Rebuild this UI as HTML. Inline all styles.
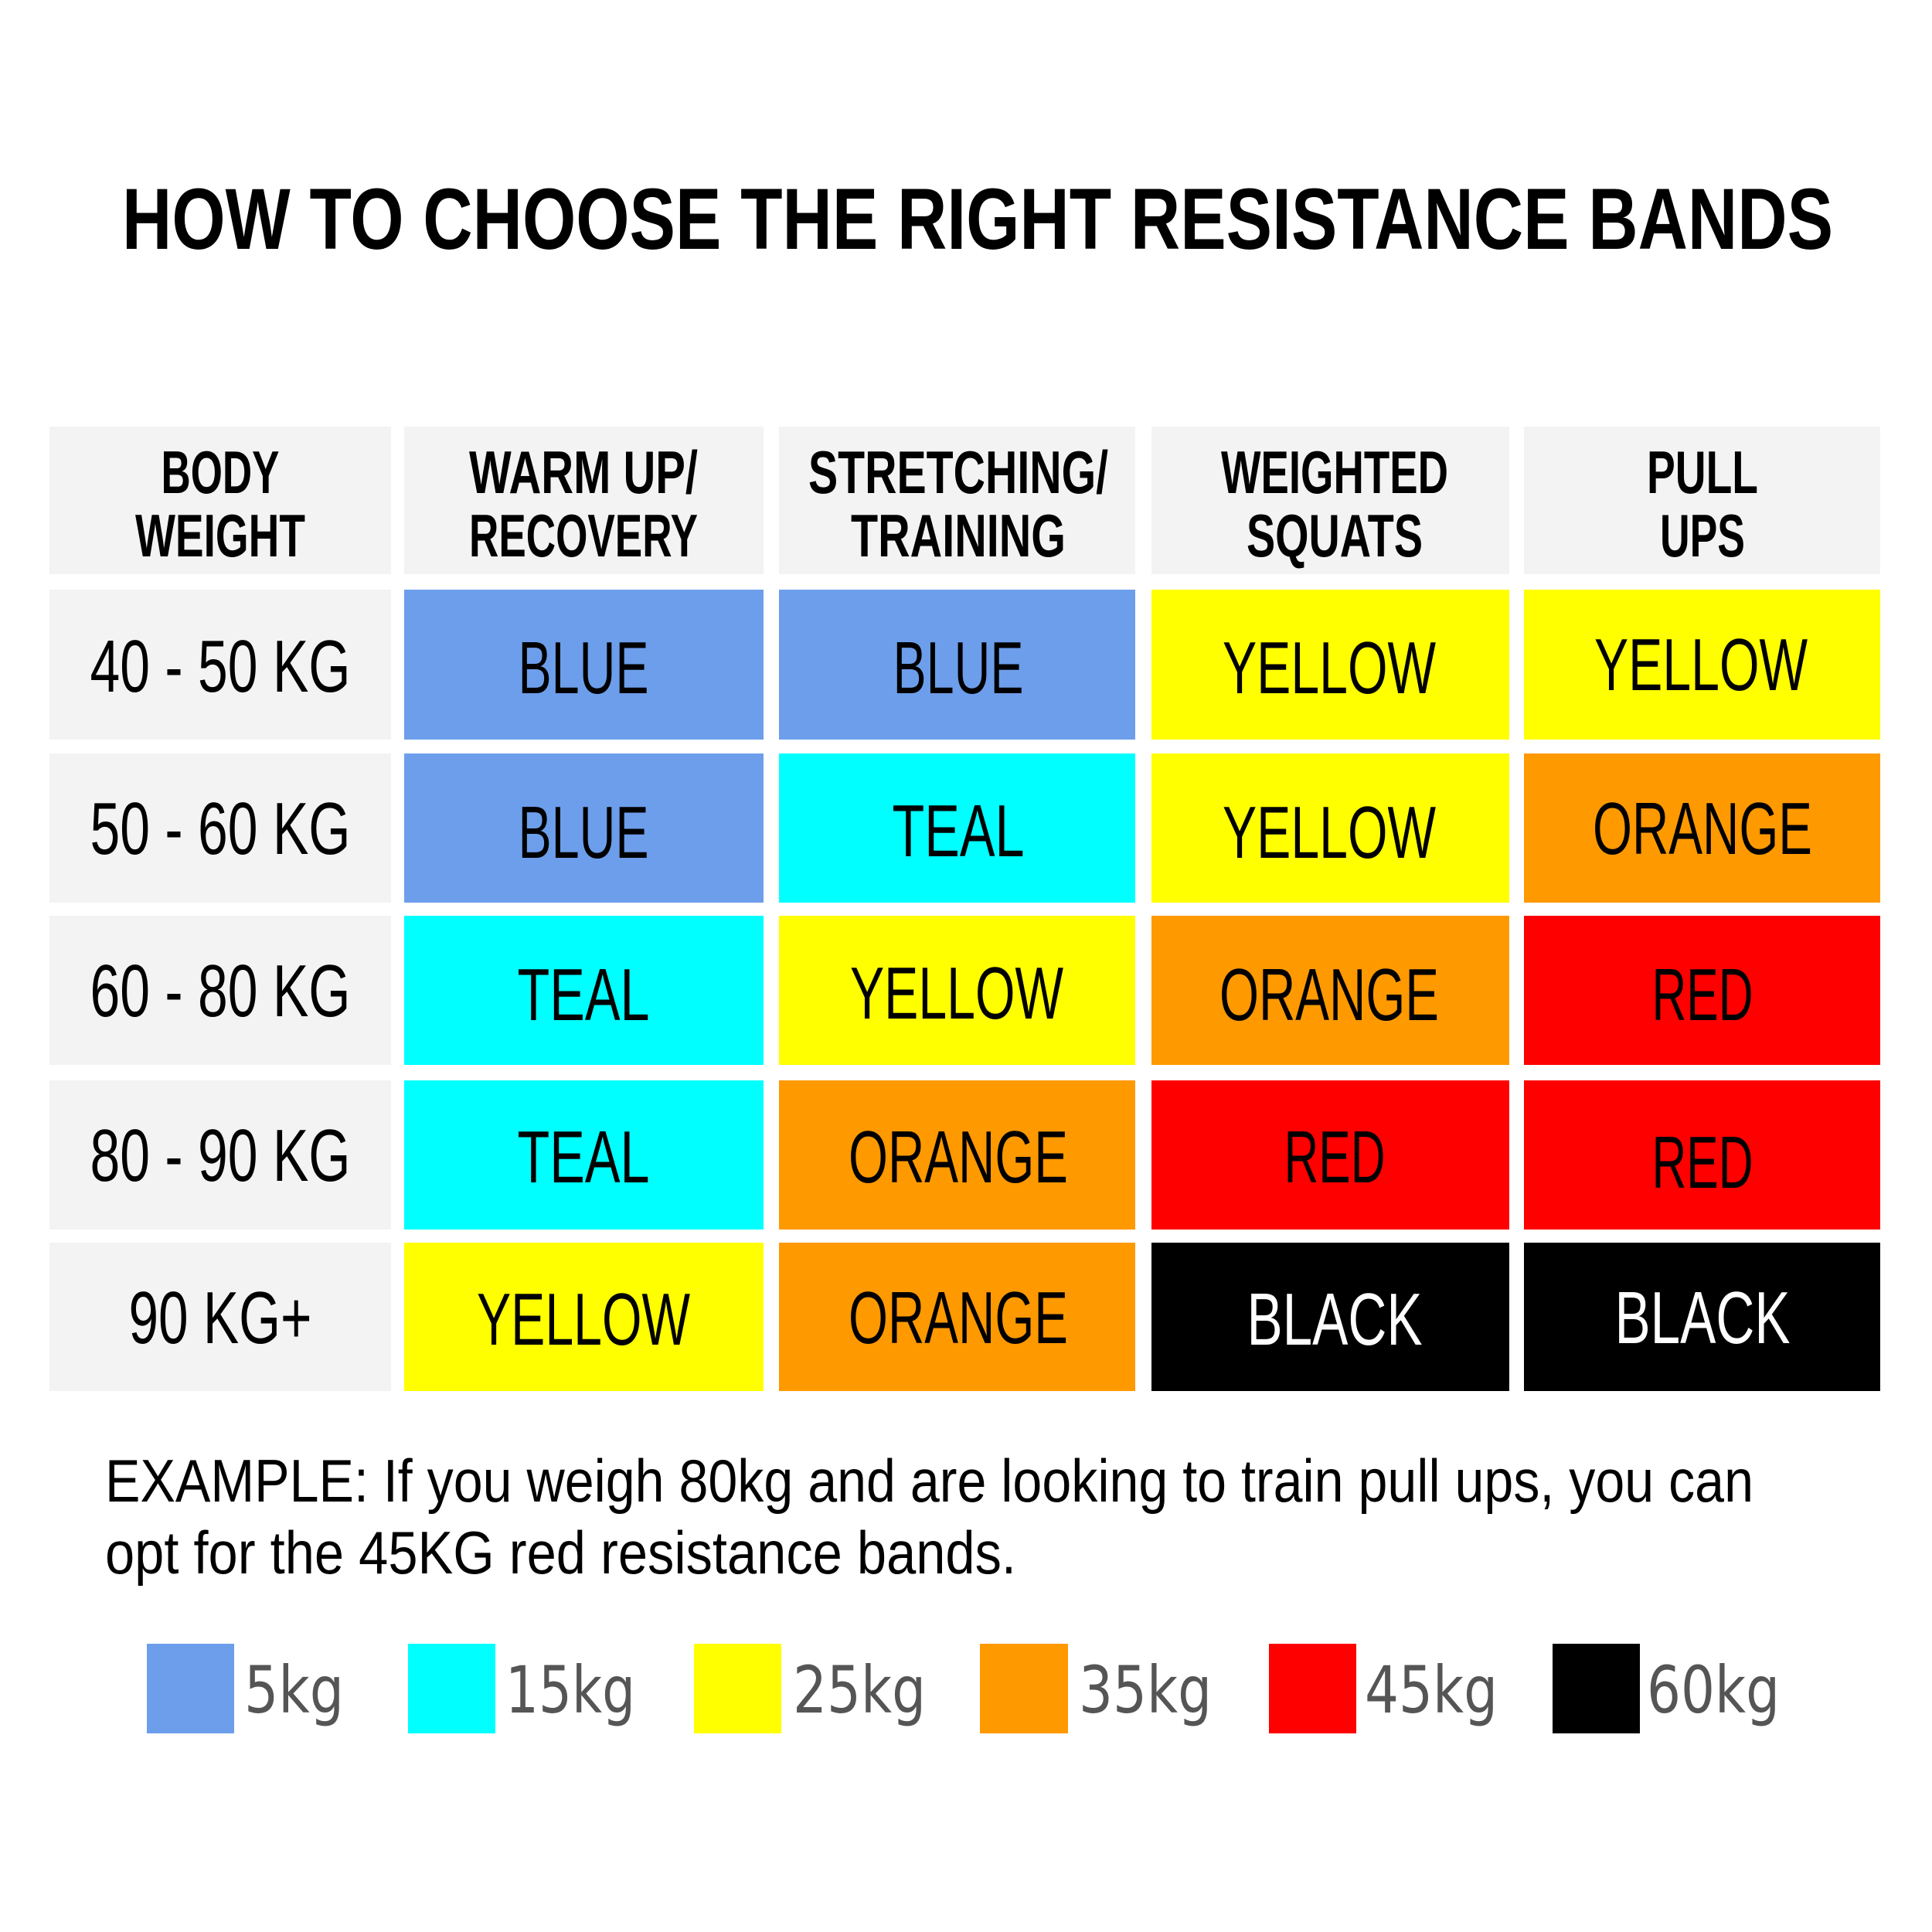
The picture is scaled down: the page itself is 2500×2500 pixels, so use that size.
<!DOCTYPE html>
<html><head><meta charset="utf-8"><style>html,body{margin:0;padding:0;background:#fff}svg{display:block}</style></head>
<body>
<svg width="2500" height="2500" viewBox="0 0 2500 2500" xmlns="http://www.w3.org/2000/svg" font-family="Liberation Sans, sans-serif">
<rect width="2500" height="2500" fill="#fff"/>
<text x="158" y="322" font-size="112" font-weight="bold" textLength="2214" lengthAdjust="spacingAndGlyphs">HOW TO CHOOSE THE RIGHT RESISTANCE BANDS</text>
<g fill="#f3f3f3">
<rect x="64" y="552" width="442" height="191"/>
<rect x="523" y="552" width="465" height="191"/>
<rect x="1008" y="552" width="461" height="191"/>
<rect x="1490" y="552" width="463" height="191"/>
<rect x="1972" y="552" width="461" height="191"/>
<rect x="64" y="763" width="442" height="194"/>
<rect x="64" y="975" width="442" height="193"/>
<rect x="64" y="1185" width="442" height="193"/>
<rect x="64" y="1398" width="442" height="193"/>
<rect x="64" y="1608" width="442" height="192"/>
</g>
<g font-weight="bold" font-size="78" text-anchor="middle">
<text x="285" y="638" textLength="153" lengthAdjust="spacingAndGlyphs">BODY</text>
<text x="285" y="720" textLength="220" lengthAdjust="spacingAndGlyphs">WEIGHT</text>
<text x="755" y="638" textLength="296" lengthAdjust="spacingAndGlyphs">WARM UP/</text>
<text x="755" y="720" textLength="296" lengthAdjust="spacingAndGlyphs">RECOVERY</text>
<text x="1240" y="638" textLength="388" lengthAdjust="spacingAndGlyphs">STRETCHING/</text>
<text x="1240" y="720" textLength="278" lengthAdjust="spacingAndGlyphs">TRAINING</text>
<text x="1727" y="638" textLength="294" lengthAdjust="spacingAndGlyphs">WEIGHTED</text>
<text x="1727" y="720" textLength="228" lengthAdjust="spacingAndGlyphs">SQUATS</text>
<text x="2203" y="638" textLength="144" lengthAdjust="spacingAndGlyphs">PULL</text>
<text x="2203" y="720" textLength="110" lengthAdjust="spacingAndGlyphs">UPS</text>
</g>
<g font-size="96" text-anchor="middle">
<text x="285" y="895" textLength="337" lengthAdjust="spacingAndGlyphs">40 - 50 KG</text>
<text x="285" y="1105" textLength="337" lengthAdjust="spacingAndGlyphs">50 - 60 KG</text>
<text x="285" y="1315" textLength="337" lengthAdjust="spacingAndGlyphs">60 - 80 KG</text>
<text x="285" y="1528" textLength="337" lengthAdjust="spacingAndGlyphs">80 - 90 KG</text>
<text x="285" y="1738" textLength="237" lengthAdjust="spacingAndGlyphs">90 KG+</text>
</g>
<!-- cells -->
<g>
<rect x="523" y="763" width="465" height="194" fill="#6d9eeb"/>
<rect x="1008" y="763" width="461" height="194" fill="#6d9eeb"/>
<rect x="1490" y="763" width="463" height="194" fill="#ffff00"/>
<rect x="1972" y="763" width="461" height="194" fill="#ffff00"/>
<rect x="523" y="975" width="465" height="193" fill="#6d9eeb"/>
<rect x="1008" y="975" width="461" height="193" fill="#00ffff"/>
<rect x="1490" y="975" width="463" height="193" fill="#ffff00"/>
<rect x="1972" y="975" width="461" height="193" fill="#ff9900"/>
<rect x="523" y="1185" width="465" height="193" fill="#00ffff"/>
<rect x="1008" y="1185" width="461" height="193" fill="#ffff00"/>
<rect x="1490" y="1185" width="463" height="193" fill="#ff9900"/>
<rect x="1972" y="1185" width="461" height="193" fill="#ff0000"/>
<rect x="523" y="1398" width="465" height="193" fill="#00ffff"/>
<rect x="1008" y="1398" width="461" height="193" fill="#ff9900"/>
<rect x="1490" y="1398" width="463" height="193" fill="#ff0000"/>
<rect x="1972" y="1398" width="461" height="193" fill="#ff0000"/>
<rect x="523" y="1608" width="465" height="192" fill="#ffff00"/>
<rect x="1008" y="1608" width="461" height="192" fill="#ff9900"/>
<rect x="1490" y="1608" width="463" height="192" fill="#000"/>
<rect x="1972" y="1608" width="461" height="192" fill="#000"/>
</g>
<g font-size="96" text-anchor="middle" lengthAdjust="spacingAndGlyphs">
<text x="755" y="897" textLength="169" lengthAdjust="spacingAndGlyphs">BLUE</text>
<text x="1240" y="897" textLength="169" lengthAdjust="spacingAndGlyphs">BLUE</text>
<text x="1720" y="897" textLength="276" lengthAdjust="spacingAndGlyphs">YELLOW</text>
<text x="2201" y="893" textLength="276" lengthAdjust="spacingAndGlyphs">YELLOW</text>
<text x="755" y="1110" textLength="169" lengthAdjust="spacingAndGlyphs">BLUE</text>
<text x="1240" y="1108" textLength="171" lengthAdjust="spacingAndGlyphs">TEAL</text>
<text x="1720" y="1110" textLength="276" lengthAdjust="spacingAndGlyphs">YELLOW</text>
<text x="2203" y="1105" textLength="284" lengthAdjust="spacingAndGlyphs">ORANGE</text>
<text x="755" y="1320" textLength="171" lengthAdjust="spacingAndGlyphs">TEAL</text>
<text x="1238" y="1318" textLength="276" lengthAdjust="spacingAndGlyphs">YELLOW</text>
<text x="1720" y="1320" textLength="284" lengthAdjust="spacingAndGlyphs">ORANGE</text>
<text x="2203" y="1320" textLength="131" lengthAdjust="spacingAndGlyphs">RED</text>
<text x="755" y="1530" textLength="171" lengthAdjust="spacingAndGlyphs">TEAL</text>
<text x="1240" y="1530" textLength="284" lengthAdjust="spacingAndGlyphs">ORANGE</text>
<text x="1727" y="1530" textLength="131" lengthAdjust="spacingAndGlyphs">RED</text>
<text x="2203" y="1537" textLength="131" lengthAdjust="spacingAndGlyphs">RED</text>
<text x="755" y="1740" textLength="276" lengthAdjust="spacingAndGlyphs">YELLOW</text>
<text x="1240" y="1738" textLength="284" lengthAdjust="spacingAndGlyphs">ORANGE</text>
<text x="1727" y="1740" textLength="227" lengthAdjust="spacingAndGlyphs" fill="#fff">BLACK</text>
<text x="2203" y="1738" textLength="227" lengthAdjust="spacingAndGlyphs" fill="#fff">BLACK</text>
</g>
<g font-size="78">
<text x="136" y="1943" textLength="2133" lengthAdjust="spacingAndGlyphs">EXAMPLE: If you weigh 80kg and are looking to train pull ups, you can</text>
<text x="136" y="2036" textLength="1179" lengthAdjust="spacingAndGlyphs">opt for the 45KG red resistance bands.</text>
</g>
<rect x="190" y="2127" width="113" height="116" fill="#6d9eeb"/>
<rect x="528" y="2127" width="113" height="116" fill="#00ffff"/>
<rect x="898" y="2127" width="113" height="116" fill="#ffff00"/>
<rect x="1268" y="2127" width="114" height="116" fill="#ff9900"/>
<rect x="1642" y="2127" width="113" height="116" fill="#ff0000"/>
<rect x="2009" y="2127" width="113" height="116" fill="#000"/>
<g font-family="DejaVu Sans, sans-serif" font-size="84" fill="#555">
<text x="316" y="2216" textLength="129" lengthAdjust="spacingAndGlyphs">5kg</text>
<text x="654" y="2216" textLength="168" lengthAdjust="spacingAndGlyphs">15kg</text>
<text x="1026" y="2216" textLength="172" lengthAdjust="spacingAndGlyphs">25kg</text>
<text x="1396" y="2216" textLength="172" lengthAdjust="spacingAndGlyphs">35kg</text>
<text x="1766" y="2216" textLength="172" lengthAdjust="spacingAndGlyphs">45kg</text>
<text x="2131" y="2216" textLength="172" lengthAdjust="spacingAndGlyphs">60kg</text>
</g>
</svg>
</body></html>
